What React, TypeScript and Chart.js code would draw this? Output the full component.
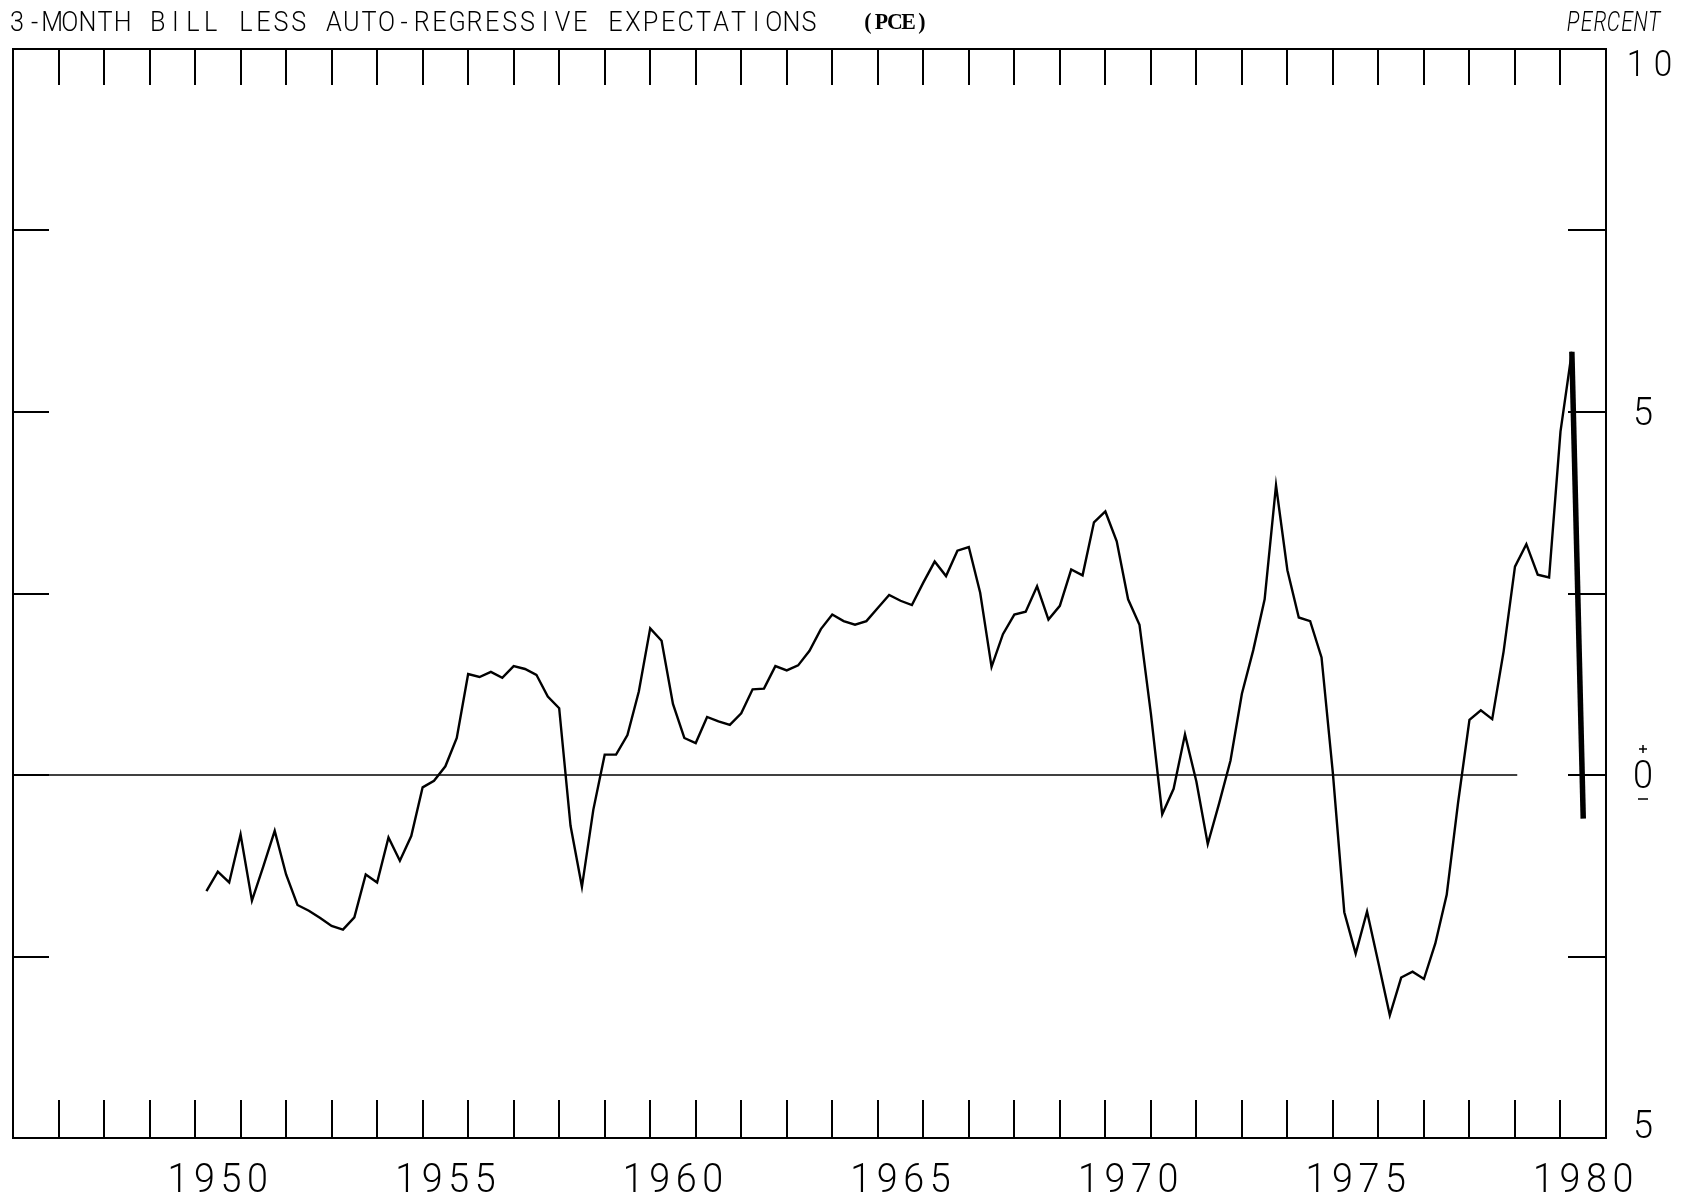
import React, { useEffect, useRef } from 'react';
import { Chart, registerables } from 'chart.js';

Chart.register(...registerables);

// Quarterly observations, first one is 1950 Q1 (plotted at the end of each quarter)
const START_YEAR = 1950;
const values1950s = [
  -1.60, -1.33, -1.48, -0.82,
  -1.73, -1.26, -0.77, -1.37,
  -1.79, -1.87, -1.97, -2.08,
  -2.13, -1.96, -1.37, -1.48,
  -0.86, -1.18, -0.84, -0.17,
  -0.08, 0.12, 0.51, 1.39,
  1.35, 1.42, 1.34, 1.50,
  1.46, 1.38, 1.08, 0.92,
  -0.70, -1.54, -0.48, 0.28,
  0.28, 0.55, 1.15, 2.02,
];
const values1960s = [
  1.85, 0.98, 0.51, 0.44,
  0.80, 0.74, 0.69, 0.85,
  1.18, 1.19, 1.50, 1.44,
  1.51, 1.71, 2.01, 2.21,
  2.12, 2.07, 2.12, 2.30,
  2.48, 2.40, 2.34, 2.65,
  2.94, 2.74, 3.09, 3.14,
  2.51, 1.49, 1.94, 2.21,
  2.25, 2.60, 2.14, 2.33,
  2.83, 2.75, 3.48, 3.63,
];
const values1970s = [
  3.22, 2.42, 2.07, 0.85,
  -0.54, -0.19, 0.56, -0.09,
  -0.95, -0.39, 0.20, 1.12,
  1.72, 2.42, 3.99, 2.82,
  2.17, 2.12, 1.62, 0.02,
  -1.89, -2.46, -1.88, -2.59,
  -3.31, -2.79, -2.71, -2.81,
  -2.32, -1.65, -0.38, 0.76,
  0.89, 0.77, 1.70, 2.87,
  3.18, 2.76, 2.72, 4.73,
];
const values1980 = [5.83, -0.60];

const X_MIN = 1946;
const X_MAX = 1981;
const Y_MIN = -5;
const Y_MAX = 10;
const xTickLabels = ['1950', '1955', '1960', '1965', '1970', '1975', '1980'];
const yTickValues = [10, 5, 0, -5];
const yTickLabels = ['10', '5', '0', '5'];
const yMinorTicks = [7.5, 2.5, -2.5];
const TITLE = '3-MONTH BILL LESS AUTO-REGRESSIVE EXPECTATIONS';
const TITLE_NOTE = '(PCE)';
const UNIT = 'PERCENT';

const allValues = [...values1950s, ...values1960s, ...values1970s, ...values1980];
const points = allValues.map((v, i) => ({ x: START_YEAR + (i + 1) / 4, y: v }));

const FONT_FAMILY = 'Roboto, Lato, "Liberation Sans", sans-serif';
const pf = (size: number, weight = 300, style = 'normal') => `${style} ${weight} ${size}px ${FONT_FAMILY}`;

function drawMono(
  ctx: CanvasRenderingContext2D,
  text: string,
  firstCenterX: number,
  baseline: number,
  pitch: number,
  font: string,
  sx = 1
) {
  ctx.save();
  ctx.font = font;
  ctx.fillStyle = '#000';
  ctx.textAlign = 'center';
  ctx.textBaseline = 'alphabetic';
  for (let i = 0; i < text.length; i++) {
    const ch = text[i];
    if (ch === ' ') continue;
    ctx.save();
    ctx.translate(firstCenterX + i * pitch, baseline);
    ctx.scale(sx, 1);
    ctx.fillText(ch, 0, 0);
    ctx.restore();
  }
  ctx.restore();
}

const framePlugin = {
  id: 'plotterFrame',
  beforeDatasetsDraw(chart: any) {
    const { ctx, chartArea } = chart;
    const xs = chart.scales.x;
    const ys = chart.scales.y;
    const y0 = ys.getPixelForValue(0);
    ctx.save();
    ctx.strokeStyle = '#000';
    ctx.lineWidth = 1.5;
    ctx.beginPath();
    ctx.moveTo(chartArea.left, y0);
    ctx.lineTo(xs.getPixelForValue(1979.05), y0);
    ctx.stroke();
    ctx.restore();
  },
  afterDatasetsDraw(chart: any) {
    const { ctx, chartArea } = chart;
    const xs = chart.scales.x;
    const ys = chart.scales.y;
    ctx.save();
    ctx.strokeStyle = '#000';
    ctx.lineWidth = 2;
    ctx.strokeRect(chartArea.left, chartArea.top, chartArea.right - chartArea.left, chartArea.bottom - chartArea.top);
    ctx.beginPath();
    for (let yr = X_MIN + 1; yr < X_MAX; yr++) {
      const px = Math.round(xs.getPixelForValue(yr));
      ctx.moveTo(px, chartArea.top);
      ctx.lineTo(px, chartArea.top + 36);
      ctx.moveTo(px, chartArea.bottom);
      ctx.lineTo(px, chartArea.bottom - 38);
    }
    for (const v of [...yMinorTicks, 5, 0]) {
      const py = Math.round(ys.getPixelForValue(v));
      ctx.moveTo(chartArea.left, py);
      ctx.lineTo(chartArea.left + 36, py);
      ctx.moveTo(chartArea.right, py);
      ctx.lineTo(chartArea.right - 38, py);
    }
    ctx.stroke();
    ctx.restore();
  },
  afterDraw(chart: any) {
    const { ctx, chartArea } = chart;
    const xs = chart.scales.x;
    const ys = chart.scales.y;

    // title line
    drawMono(ctx, TITLE, 17, 31, 17.6, pf(28), 0.9);
    drawMono(ctx, TITLE_NOTE, 868, 29, 13.5, `bold 23px "Liberation Serif", serif`, 0.95);
    drawMono(ctx, UNIT, 1573, 31, 13.5, pf(27, 300, 'italic'), 0.78);

    // x labels, centred on the middle of the year
    xTickLabels.forEach((lab) => {
      const cx = xs.getPixelForValue(Number(lab) + 0.5);
      const pitch = 26.5;
      drawMono(ctx, lab, cx - ((lab.length - 1) * pitch) / 2, 1192, pitch, pf(41), 0.92);
    });

    // y labels on the right
    const lx = chartArea.right + 37;
    yTickValues.forEach((v, i) => {
      const lab = yTickLabels[i];
      let cy = ys.getPixelForValue(v);
      if (v === Y_MAX) cy += 14;
      if (v === Y_MIN) cy -= 13;
      const base = cy + 13;
      if (lab.length === 2) {
        drawMono(ctx, lab, lx - 7, base, 27, pf(37), 0.9);
      } else {
        drawMono(ctx, lab, lx, base, 0, pf(38), 0.95);
      }
      if (v === 0) {
        ctx.save();
        ctx.strokeStyle = '#000';
        ctx.lineWidth = 1.5;
        ctx.beginPath();
        ctx.moveTo(lx - 4, cy - 26);
        ctx.lineTo(lx + 4, cy - 26);
        ctx.moveTo(lx, cy - 30);
        ctx.lineTo(lx, cy - 22);
        ctx.moveTo(lx - 5, cy + 24);
        ctx.lineTo(lx + 5, cy + 24);
        ctx.stroke();
        ctx.restore();
      }
    });
  },
};

export default function App() {
  const canvasRef = useRef<HTMLCanvasElement | null>(null);

  useEffect(() => {
    if (!canvasRef.current) return;
    const lastIndex = points.length - 1;
    const chart = new Chart(canvasRef.current, {
      type: 'line',
      data: {
        datasets: [
          {
            data: points,
            borderColor: '#000',
            borderWidth: 2.4,
            pointRadius: 0,
            tension: 0,
            fill: false,
            segment: {
              borderWidth: (c: any) => (c.p1DataIndex === lastIndex ? 5.5 : 2.4),
            },
          },
        ],
      },
      options: {
        responsive: false,
        animation: false,
        devicePixelRatio: 1,
        layout: { padding: { left: 13, top: 49, right: 101, bottom: 66 } },
        scales: {
          x: { type: 'linear', min: X_MIN, max: X_MAX, display: false },
          y: { type: 'linear', min: Y_MIN, max: Y_MAX, display: false },
        },
        plugins: {
          legend: { display: false },
          tooltip: { enabled: false },
          title: { display: false },
        },
      },
      plugins: [framePlugin],
    });
    return () => chart.destroy();
  }, []);

  return (
    <div style={{ position: 'absolute', left: 0, top: 0, width: 1707, height: 1204, background: '#fff' }}>
      <canvas ref={canvasRef} width={1707} height={1204} style={{ display: 'block' }} />
    </div>
  );
}
